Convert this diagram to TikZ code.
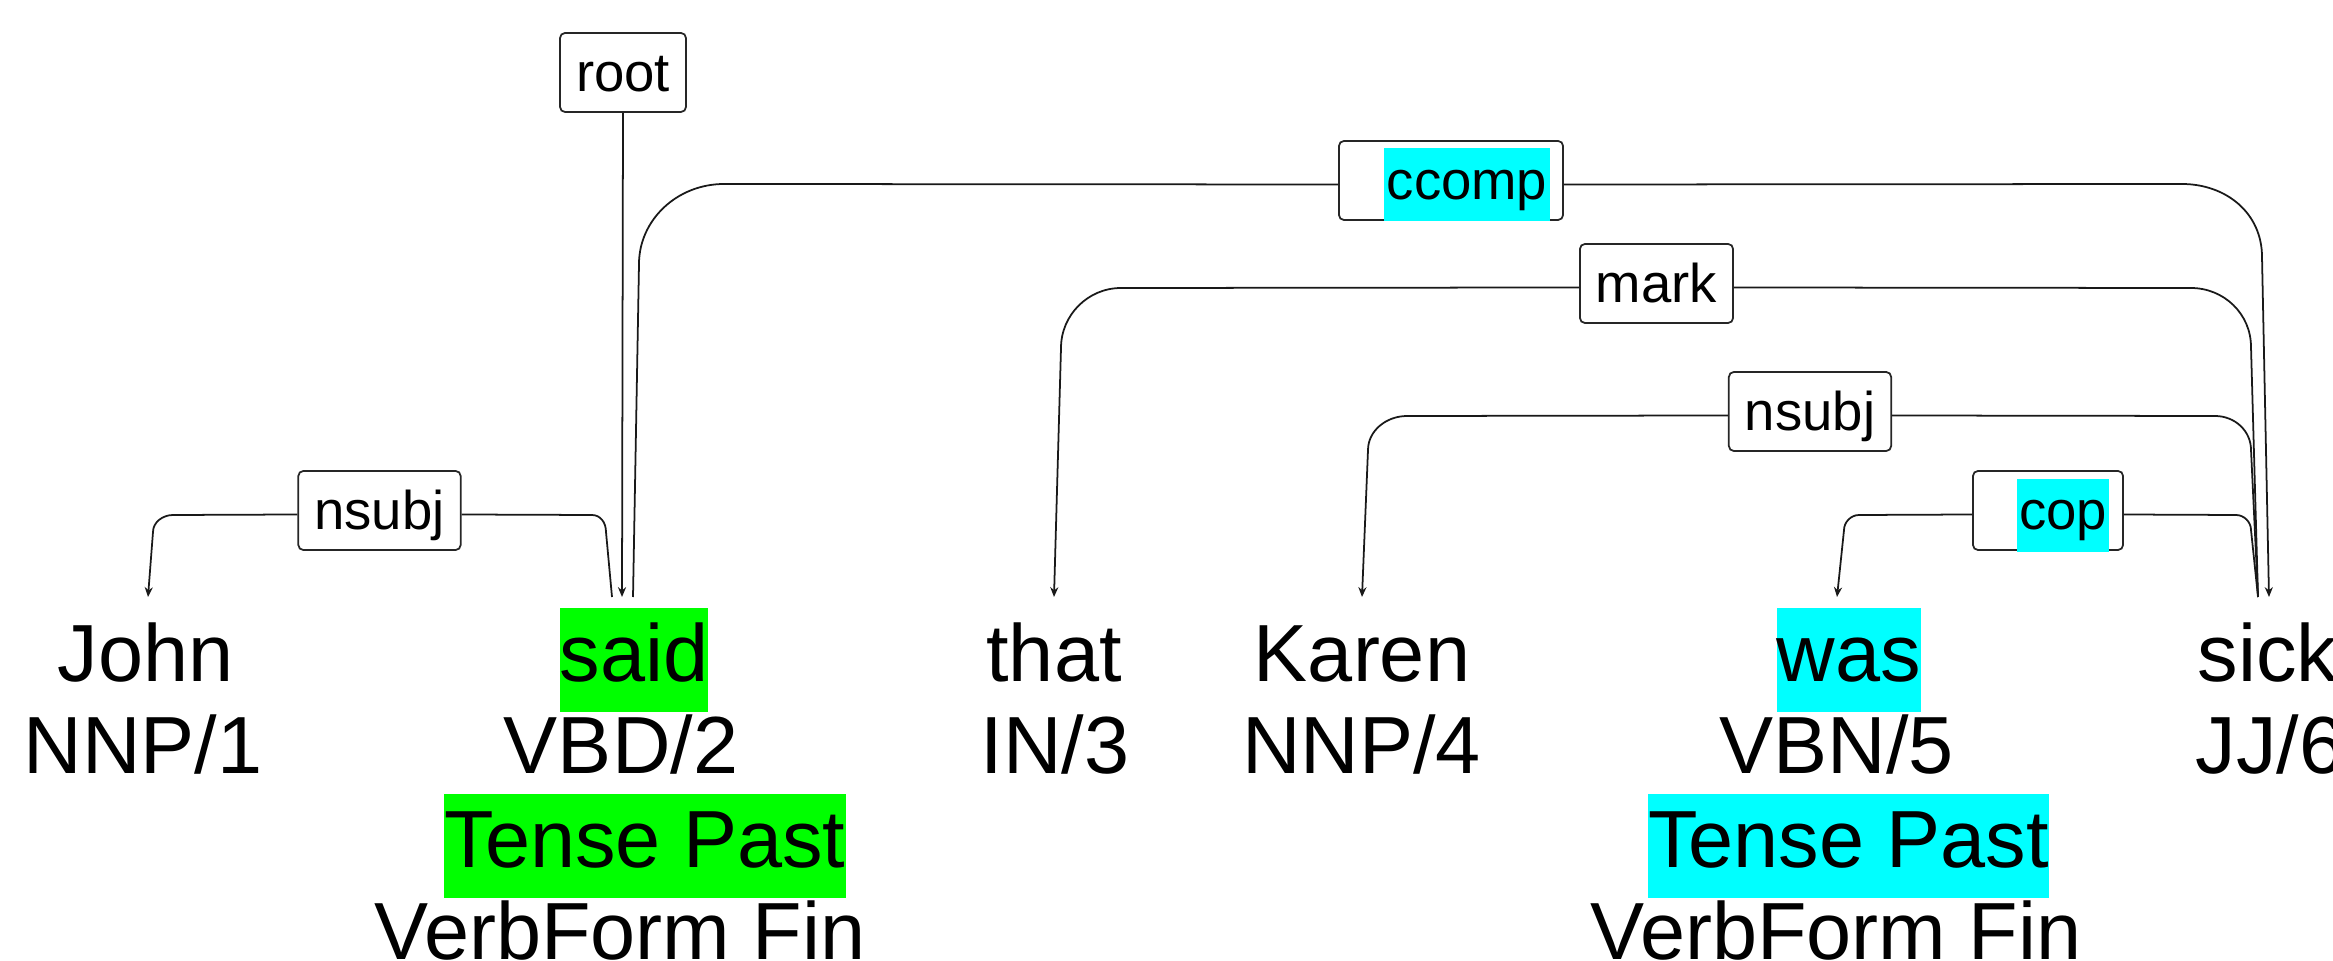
\documentclass[tikz,border=0pt]{standalone}
\usepackage{fontspec}
\setmainfont{Liberation Sans}
\usetikzlibrary{arrows.meta,calc}
\definecolor{hlgreen}{HTML}{00FF00}
\definecolor{hlcyan}{HTML}{00FFFF}
\begin{document}
\begin{tikzpicture}[x=0.01cm,y=-0.01cm,
  word/.style={inner sep=0pt, anchor=base, font=\fontsize{23.05pt}{27pt}\selectfont},
  wordhl/.style={word, text height=0.73cm, text depth=0.31cm},
  deplabel/.style={draw=black!85, line width=0.5pt, rounded corners=0.05cm,
    inner xsep=0.16cm, inner ysep=0pt, anchor=base,
    text height=0.59cm, text depth=0.20cm,
    font=\fontsize{15.5pt}{18pt}\selectfont},
  labelhl/.style={fill=hlcyan, inner sep=0pt, anchor=base,
    font=\fontsize{15.5pt}{18pt}\selectfont},
  dep/.style={draw=black!90, line width=0.5pt},
  deparrow/.style={dep, -{Stealth[length=2.8pt,width=2.3pt]}}
]
\useasboundingbox (0,0) rectangle (2333,961);

% ---- tokens ----
\node[word] (John)  at (145.5,681) {John};
\node[word] (NNP1)  at (143,773) {NNP/1};

\node[wordhl, fill=hlgreen, minimum width=1.48cm] (said) at (634,681) {said};
\node[word] (VBD2)  at (621,773) {VBD/2};
\node[wordhl, fill=hlgreen, minimum width=3.96cm] (saidTense) at (645,867) {Tense Past};
\node[word] (saidForm) at (620,959) {VerbForm Fin};

\node[word] (that)  at (1054,681) {that};
\node[word] (IN3)   at (1055,773) {IN/3};

\node[word] (Karen) at (1362,681) {Karen};
\node[word] (NNP4)  at (1361.5,773) {NNP/4};

\node[wordhl, fill=hlcyan, minimum width=1.44cm] (was) at (1849,681) {was};
\node[word] (VBN5)  at (1836.5,773) {VBN/5};
\node[wordhl, fill=hlcyan, minimum width=3.95cm] (wasTense) at (1848.5,867) {Tense Past};
\node[word] (wasForm) at (1836,959) {VerbForm Fin};

\node[word, anchor=base west] (sick) at (2197,681) {sick};
\node[word, anchor=base west] (JJ6)  at (2195,773) {JJ/6};

% ---- attachment points above the tokens ----
\coordinate (John-in)        at (148,597);
\coordinate (said-in)        at (622,597);
\coordinate (said-out-nsubj) at (612,597);
\coordinate (said-out-ccomp) at (633,597);
\coordinate (that-in)        at (1054,597);
\coordinate (Karen-in)       at (1362,597);
\coordinate (was-in)         at (1837,597);
\coordinate (sick-out)       at (2258,597);
\coordinate (sick-in)        at (2269,597);

% ---- relation labels ----
\node[deplabel] (lroot)   at (623,92) {root};
\node[deplabel] (lnsubjA) at (379.5,530) {nsubj};
\node[deplabel, minimum width=2.24cm] (lccomp) at (1451,200) {};
\node[labelhl, minimum width=1.66cm, text height=0.52cm, text depth=0.21cm] (lccompText) at (1467,200) {ccomp};
\node[deplabel] (lmark)   at (1656.5,303) {mark};
\node[deplabel] (lnsubjB) at (1810,431) {nsubj};
\node[deplabel, minimum width=1.50cm] (lcop) at (2048,530) {};
\node[labelhl, minimum width=0.92cm, text height=0.51cm, text depth=0.22cm] (lcopText) at (2063,530) {cop};

% ---- arcs ----
% root -> said
\draw[deparrow] (lroot.south) -- (said-in);

% nsubj: said -> John
\draw[dep] (said-out-nsubj) -- (606,532) .. controls (606,522) and (600,515) .. (592,515)
  -- ($(lnsubjA.east)+(0,4)$);
\draw[deparrow] ($(lnsubjA.west)+(0,4)$) -- (173,515)
  .. controls (163,515) and (153,522) .. (153,532) -- (John-in);

% ccomp: said -> sick
\draw[dep] (said-out-ccomp) -- (639,264) .. controls (639,220) and (677,184) .. (724,184)
  -- ($(lccomp.west)+(0,4)$);
\draw[deparrow] ($(lccomp.east)+(0,4)$) -- (2182,184)
  .. controls (2226,184) and (2262,213) .. (2262,257) -- (sick-in);

% mark: sick -> that
\draw[dep] (sick-out) -- (2251,347) .. controls (2251,314) and (2224,288) .. (2191,288)
  -- ($(lmark.east)+(0,4)$);
\draw[deparrow] ($(lmark.west)+(0,4)$) -- (1121,288)
  .. controls (1088,288) and (1061,315) .. (1061,348) -- (that-in);

% nsubj: sick -> Karen
\draw[dep] (sick-out) -- (2251,450) .. controls (2251,431) and (2235,416) .. (2215,416)
  -- ($(lnsubjB.east)+(0,4)$);
\draw[deparrow] ($(lnsubjB.west)+(0,4)$) -- (1407,416)
  .. controls (1386,416) and (1368,431) .. (1368,450) -- (Karen-in);

% cop: sick -> was
\draw[dep] (sick-out) -- (2251,530) .. controls (2251,522) and (2244,515) .. (2236,515)
  -- ($(lcop.east)+(0,4)$);
\draw[deparrow] ($(lcop.west)+(0,4)$) -- (1859,515)
  .. controls (1851,515) and (1844,522) .. (1844,530) -- (was-in);
\end{tikzpicture}
\end{document}
